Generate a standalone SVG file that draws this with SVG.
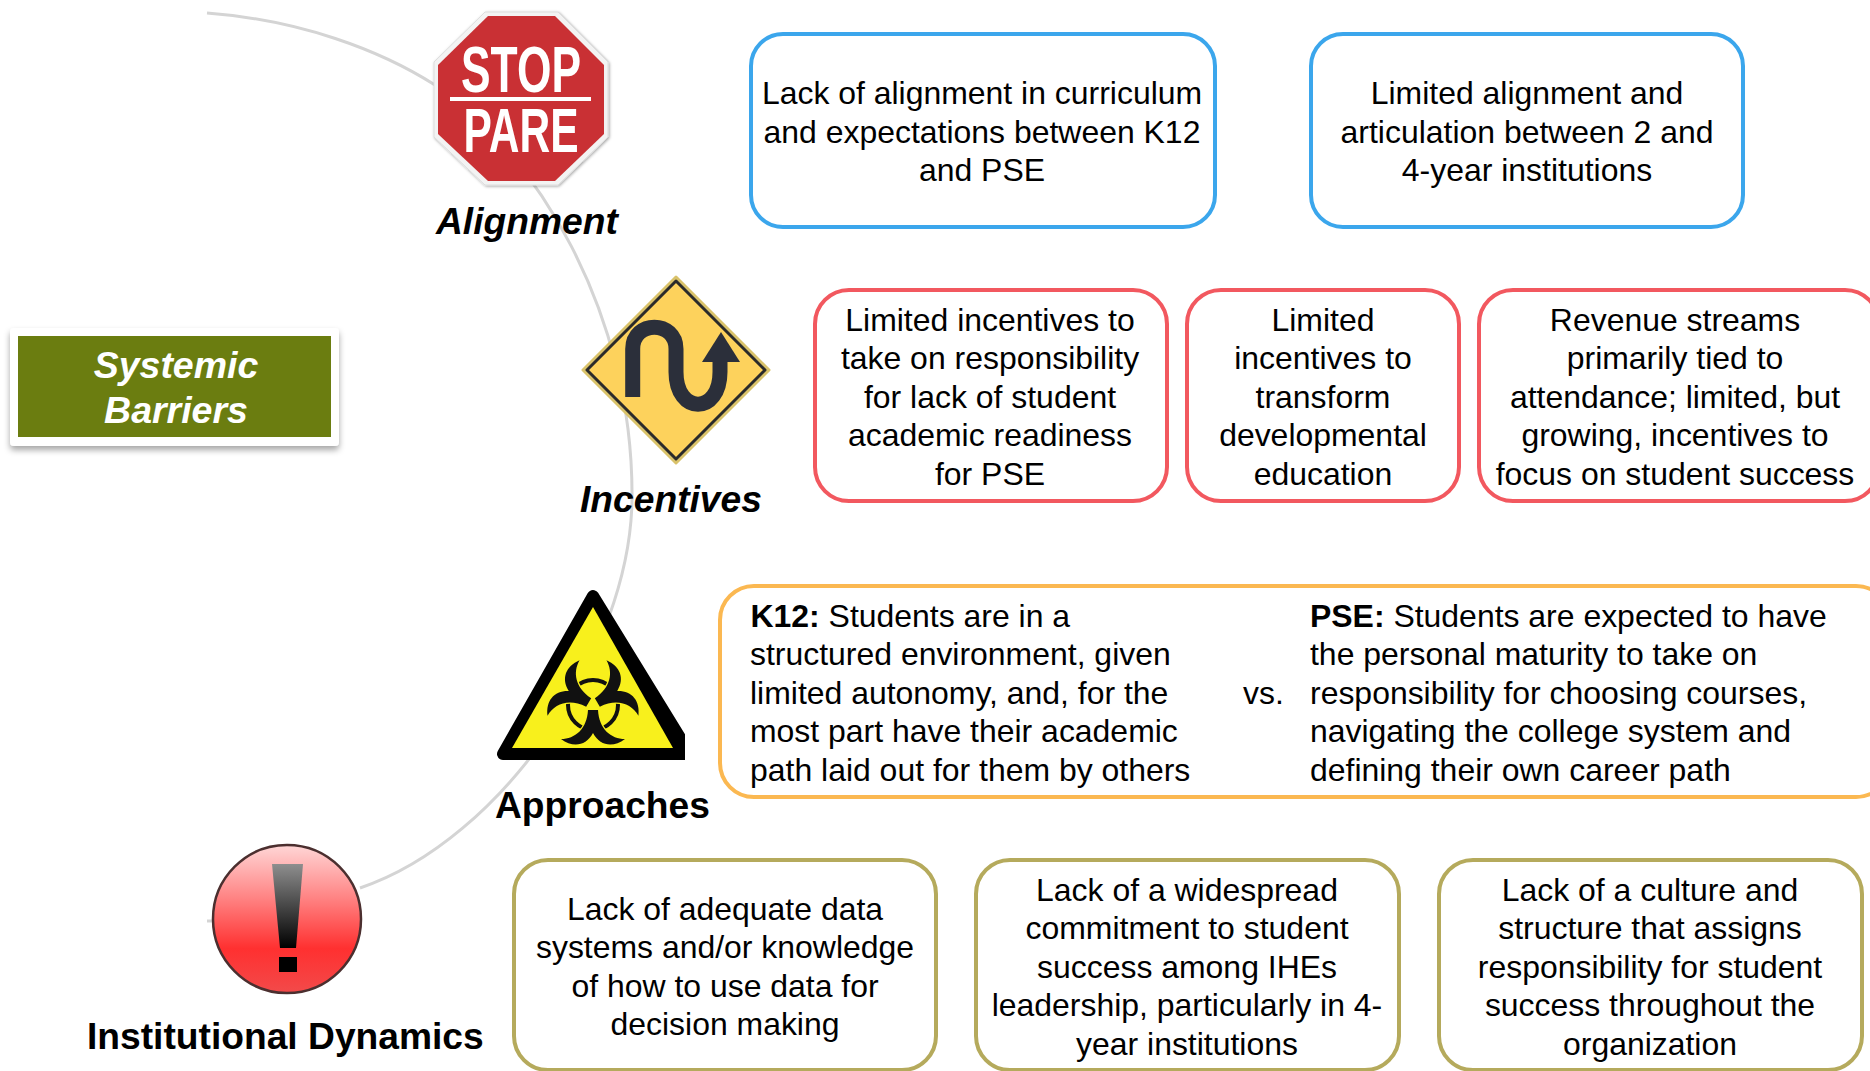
<svg xmlns="http://www.w3.org/2000/svg" width="1870" height="1071" viewBox="0 0 1870 1071">
<style>
text{font-family:"Liberation Sans",Arial,sans-serif;fill:#000}
.t{font-size:31.95px;text-anchor:middle}
.l{font-size:31.95px}
.h{font-size:37.2px;font-weight:bold}
.box{fill:#fff;stroke-width:4}
.blue{stroke:#3ba6ec}.red{stroke:#f2585f}.orange{stroke:#fbb851}.olive{stroke:#b5aa5c}
</style>
<defs>
<filter id="sh" x="-10%" y="-20%" width="120%" height="150%"><feDropShadow dx="0" dy="4" stdDeviation="3" flood-color="#000" flood-opacity=".35"/></filter>
<filter id="sh2" x="-10%" y="-10%" width="120%" height="120%"><feDropShadow dx="1" dy="1" stdDeviation="1.5" flood-color="#000" flood-opacity=".35"/></filter>
<linearGradient id="ball" x1="0" y1="0" x2="0" y2="1"><stop offset="0" stop-color="#ffd6d6"/><stop offset=".35" stop-color="#ff8585"/><stop offset=".7" stop-color="#ff3030"/><stop offset="1" stop-color="#f24a4a"/></linearGradient>
<linearGradient id="ex" x1="0" y1="0" x2="0" y2="1"><stop offset="0" stop-color="#8e8e8e"/><stop offset="1" stop-color="#000"/></linearGradient>
<path id="arm" d="M-32 34C-18 34-6 24-5 5L5 5C6 24 18 34 32 34C20 43 7 41 0 28C-7 41-20 43-32 34Z" fill="#111" stroke="#f8f01c" stroke-width="2.5" style="paint-order:stroke"/>
</defs>
<rect width="1870" height="1071" fill="#fff"/>
<g id="connectors" fill="none" stroke="#d4d4d4" stroke-width="3">
<path d="M207 13C300 20 380 50 435 85C533 150 634 310 632 500C630 650 503 840 360 888"/>
<path d="M207 921H214"/>
</g>
<g id="title">
<rect x="10" y="328" width="329" height="118" rx="4" fill="#fff" filter="url(#sh)"/>
<rect x="18" y="336" width="313" height="101" fill="#6b7d10"/>
<text x="176" y="378" text-anchor="middle" style="font-size:37.5px;font-weight:bold;font-style:italic;fill:#fff">Systemic</text>
<text x="176" y="423" text-anchor="middle" style="font-size:37.5px;font-weight:bold;font-style:italic;fill:#fff">Barriers</text>
</g>
<g id="alignment">
<path d="M485 12H558L608 62V137L558 185H485L434 137V62Z" fill="#f3f3f3" stroke="#ddd" stroke-width="1" filter="url(#sh2)"/>
<path d="M488 16H555L604 65V134L555 181H488L438 134V65Z" fill="#c93034"/>
<text x="521" y="92" text-anchor="middle" textLength="120" lengthAdjust="spacingAndGlyphs" style="font-size:65px;font-weight:bold;fill:#fff">STOP</text>
<rect x="450" y="97" width="141" height="4" fill="#fff"/>
<text x="521" y="152" text-anchor="middle" textLength="115" lengthAdjust="spacingAndGlyphs" style="font-size:63px;font-weight:bold;fill:#fff">PARE</text>
<text x="436" y="233.500" class="h" font-style="italic">Alignment</text>
</g>
<g id="incentives">
<path d="M676 277L769 370L676 463L583 370Z" fill="#d9c26a" stroke="#d9c26a" stroke-width="3" stroke-linejoin="round"/>
<path d="M676 281L765 370L676 459L587 370Z" fill="#fdd25c" stroke="#2a2a2a" stroke-width="3" stroke-linejoin="round"/>
<path d="M632.7 397V349C632.7 320 676 320 676 349V372C676 415 720 415 720 372V358" fill="none" stroke="#2b2f3a" stroke-width="15"/>
<path d="M721 332L740 362H702Z" fill="#2b2f3a"/>
<text x="580" y="512" class="h" font-style="italic">Incentives</text>
</g>
<g id="approaches">
<path d="M593 596L503 754H690Z" fill="#000" stroke="#000" stroke-width="12" stroke-linejoin="round"/>
<rect x="685" y="725" width="16" height="45" fill="#fff"/>
<path d="M593 607L673 748H512Z" fill="#f8f01c"/>
<g transform="translate(593 705)">
<circle r="25" fill="none" stroke="#111" stroke-width="4"/>
<use href="#arm"/><use href="#arm" transform="rotate(120)"/><use href="#arm" transform="rotate(240)"/>
</g>
<text x="495" y="817.500" class="h">Approaches</text>
</g>
<g id="dynamics">
<circle cx="287" cy="919" r="74" fill="url(#ball)" stroke="#4b2f2f" stroke-width="2.5"/>
<path d="M272 864H303L296 948H280Z" fill="url(#ex)"/>
<rect x="279" y="957" width="18" height="15" fill="#000"/>
<text x="87" y="1049" class="h">Institutional Dynamics</text>
</g>
<g id="n1"><rect class="box blue" x="751" y="34" width="464" height="193" rx="32"/>
<text class="t"><tspan x="982" y="104">Lack of alignment in curriculum</tspan><tspan x="982" y="143">and expectations between K12</tspan><tspan x="982" y="181">and PSE</tspan></text></g>
<g id="n2"><rect class="box blue" x="1311" y="34" width="432" height="193" rx="32"/>
<text class="t"><tspan x="1527" y="104">Limited alignment and</tspan><tspan x="1527" y="143">articulation between 2 and</tspan><tspan x="1527" y="181">4-year institutions</tspan></text></g>
<g id="n3"><rect class="box red" x="815" y="290" width="352" height="211" rx="34"/>
<text class="t"><tspan x="990" y="331">Limited incentives to</tspan><tspan x="990" y="369">take on responsibility</tspan><tspan x="990" y="408">for lack of student</tspan><tspan x="990" y="446">academic readiness</tspan><tspan x="990" y="485">for PSE</tspan></text></g>
<g id="n4"><rect class="box red" x="1187" y="290" width="272" height="211" rx="34"/>
<text class="t"><tspan x="1323" y="331">Limited</tspan><tspan x="1323" y="369">incentives to</tspan><tspan x="1323" y="408">transform</tspan><tspan x="1323" y="446">developmental</tspan><tspan x="1323" y="485">education</tspan></text></g>
<g id="n5"><rect class="box red" x="1479" y="290" width="400" height="211" rx="34"/>
<text class="t"><tspan x="1675" y="331">Revenue streams</tspan><tspan x="1675" y="369">primarily tied to</tspan><tspan x="1675" y="408">attendance; limited, but</tspan><tspan x="1675" y="446">growing, incentives to</tspan><tspan x="1675" y="485">focus on student success</tspan></text></g>
<g id="n6"><rect class="box orange" x="720" y="586" width="1170" height="211" rx="34"/>
<text class="l"><tspan x="750.500" y="627" font-weight="bold">K12:</tspan><tspan> Students are in a</tspan><tspan x="750" y="665">structured environment, given</tspan><tspan x="750" y="704">limited autonomy, and, for the</tspan><tspan x="750" y="742">most part have their academic</tspan><tspan x="750" y="781">path laid out for them by others</tspan></text>
<text class="l" x="1243" y="704">vs.</text>
<text class="l"><tspan x="1310" y="627" font-weight="bold">PSE:</tspan><tspan> Students are expected to have</tspan><tspan x="1310" y="665">the personal maturity to take on</tspan><tspan x="1310" y="704">responsibility for choosing courses,</tspan><tspan x="1310" y="742">navigating the college system and</tspan><tspan x="1310" y="781">defining their own career path</tspan></text></g>
<g id="n7"><rect class="box olive" x="514" y="860" width="422" height="210" rx="34"/>
<text class="t"><tspan x="725" y="920">Lack of adequate data</tspan><tspan x="725" y="958">systems and/or knowledge</tspan><tspan x="725" y="997">of how to use data for</tspan><tspan x="725" y="1035">decision making</tspan></text></g>
<g id="n8"><rect class="box olive" x="976" y="860" width="423" height="210" rx="34"/>
<text class="t"><tspan x="1187" y="901">Lack of a widespread</tspan><tspan x="1187" y="939">commitment to student</tspan><tspan x="1187" y="978">success among IHEs</tspan><tspan x="1187" y="1016">leadership, particularly in 4-</tspan><tspan x="1187" y="1055">year institutions</tspan></text></g>
<g id="n9"><rect class="box olive" x="1439" y="860" width="423" height="210" rx="34"/>
<text class="t"><tspan x="1650" y="901">Lack of a culture and</tspan><tspan x="1650" y="939">structure that assigns</tspan><tspan x="1650" y="978">responsibility for student</tspan><tspan x="1650" y="1016">success throughout the</tspan><tspan x="1650" y="1055">organization</tspan></text></g>
</svg>
